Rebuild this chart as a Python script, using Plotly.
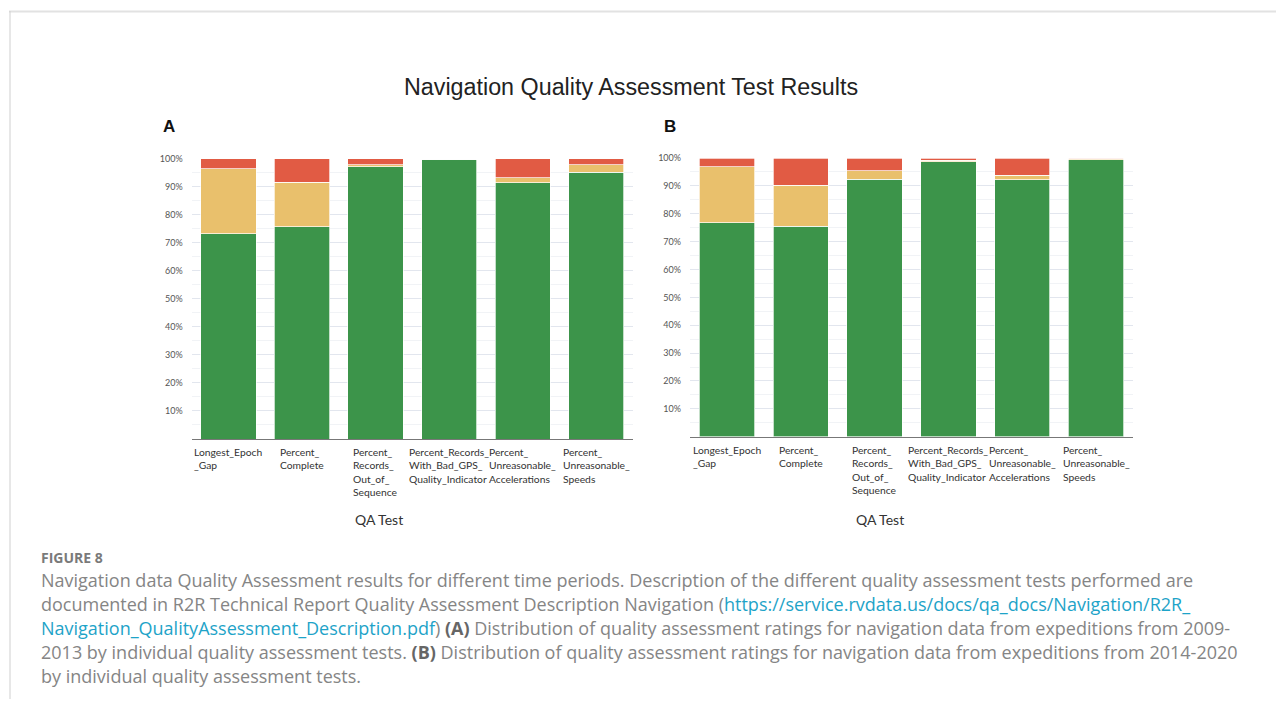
import plotly.graph_objects as go
from plotly.subplots import make_subplots

# the page body has an 8px margin, so the figure is 8px smaller and everything is placed 8px up/left
OFF = 8
W, H = 1284 - 2 * OFF, 707 - 2 * OFF

tests = ['Longest_Epoch_Gap', 'Percent_Complete', 'Percent_Records_Out_of_Sequence',
         'Percent_Records_With_Bad_GPS_Quality_Indicator',
         'Percent_Unreasonable_Accelerations', 'Percent_Unreasonable_Speeds']
tick_labels = ['Longest_Epoch<br>_Gap', 'Percent_<br>Complete',
               'Percent_<br>Records_<br>Out_of_<br>Sequence',
               'Percent_Records_<br>With_Bad_GPS_<br>Quality_Indicator',
               'Percent_<br>Unreasonable_<br>Accelerations',
               'Percent_<br>Unreasonable_<br>Speeds']

# panel A: 2009-2013
green_a = [73.2, 75.7, 97.1, 99.8, 91.4, 95.1]
yellow_a = [23.1, 15.9, 0.7, 0.0, 1.8, 2.6]
red_a = [3.7, 8.4, 2.2, 0.2, 6.8, 2.3]

# panel B: 2014-2020
green_b = [76.8, 75.5, 92.4, 98.7, 92.2, 99.3]
yellow_b = [20.1, 14.7, 3.0, 0.5, 1.6, 0.5]
red_b = [3.1, 9.8, 4.6, 0.8, 6.2, 0.2]

y_ticks = [10, 20, 30, 40, 50, 60, 70, 80, 90, 100]
y_ticktext = [f'{v}%' for v in y_ticks]

colors = {'green': '#3c944a', 'yellow': '#e9c06c', 'red': '#e15b44'}

fig = make_subplots(rows=1, cols=2)

for col, (g, yv, r) in enumerate([(green_a, yellow_a, red_a), (green_b, yellow_b, red_b)], start=1):
    for name, vals in [('green', g), ('yellow', yv), ('red', r)]:
        fig.add_trace(go.Bar(x=tests, y=vals, name=name, showlegend=False,
                             marker=dict(color=colors[name], line=dict(color='white', width=0.7))),
                      row=1, col=col)

px = lambda v: (v - OFF) / W
py = lambda v: 1 - (v - OFF) / H

domains = [((191.7, 633), (439, 158.5)), ((690, 1133), (436.7, 158))]
for i, ((x0, x1), (yb, yt)) in enumerate(domains, start=1):
    xa = 'xaxis' if i == 1 else 'xaxis2'
    ya = 'yaxis' if i == 1 else 'yaxis2'
    fig.layout[xa].update(domain=[px(x0), px(x1)], showticklabels=False, showline=True,
                          linecolor='#777', linewidth=1, showgrid=False, fixedrange=True,
                          automargin=False)
    fig.layout[ya].update(domain=[py(yb), py(yt)], range=[0, 100], tickvals=y_ticks,
                          ticktext=y_ticktext, showgrid=True, gridcolor='#e2e6ee', gridwidth=1,
                          minor=dict(dtick=5, showgrid=True, gridcolor='#f1f3f6'),
                          zeroline=False, showline=False, ticklabelstandoff=8, automargin=False,
                          tickfont=dict(family='Lato', size=9, color='#555'), fixedrange=True)

annotations = []
for i, xref in enumerate(['x', 'x2']):
    yref = 'y domain' if i == 0 else 'y2 domain'
    for t, lab in zip(tests, tick_labels):
        annotations.append(dict(x=t, xref=xref, y=0, yref=yref, text=lab, showarrow=False,
                                xanchor='center', yanchor='top', align='left', yshift=-5,
                                font=dict(family='Lato', size=10.3, color='#333')))


def text_at(x, y, text, font, xanchor='center', align='center'):
    annotations.append(dict(x=px(x), y=py(y), xref='paper', yref='paper', text=text,
                            showarrow=False, xanchor=xanchor, yanchor='middle', align=align,
                            font=font))


# axis titles
for xc in [379, 880]:
    text_at(xc, 520, 'QA Test', dict(family='Lato', size=14, color='#333'))

# panel letters and title
for xl, letter in [(161, 'A'), (662, 'B')]:
    text_at(xl, 127, f'<b>{letter}</b>', dict(family='Liberation Sans', size=17, color='#111'),
            xanchor='left')
text_at(631, 87, 'Navigation Quality Assessment Test Results',
        dict(family='Liberation Sans', size=23.3, color='#222'))

# caption
link = '#1ea3c8'
caption_lines = [
    'Navigation data Quality Assessment results for different time periods. Description of the different quality assessment tests performed are',
    f'documented in R2R Technical Report Quality Assessment Description Navigation (<span style="color:{link}">https://service.rvdata.us/docs/qa_docs/Navigation/R2R_</span>',
    f'<span style="color:{link}">Navigation_QualityAssessment_Description.pdf</span>) <b><span style="color:#666">(A)</span></b> Distribution of quality assessment ratings for navigation data from expeditions from 2009-',
    '2013 by individual quality assessment tests. <b><span style="color:#666">(B)</span></b> Distribution of quality assessment ratings for navigation data from expeditions from 2014-2020',
    'by individual quality assessment tests.',
]
text_at(39, 557, '<b>FIGURE 8</b>', dict(family='Open Sans', size=14, color='#7a7a7a'),
        xanchor='left', align='left')
for k, line in enumerate(caption_lines):
    text_at(39, 580 + 24 * k, line, dict(family='Open Sans', size=18, color='#858585'),
            xanchor='left', align='left')

shapes = [
    dict(type='line', xref='paper', yref='paper', x0=px(9), x1=1, y0=py(11.5), y1=py(11.5),
         line=dict(color='#e2e2e2', width=2)),
    dict(type='line', xref='paper', yref='paper', x0=px(10), x1=px(10), y0=py(11), y1=0,
         line=dict(color='#cfcfcf', width=1)),
]

fig.update_layout(width=W, height=H, margin=dict(l=0, r=0, t=0, b=0, autoexpand=False),
                  barmode='stack', bargap=0.25, plot_bgcolor='white', paper_bgcolor='white',
                  annotations=annotations, shapes=shapes)

fig.write_html('out.html', config={'displayModeBar': False})
